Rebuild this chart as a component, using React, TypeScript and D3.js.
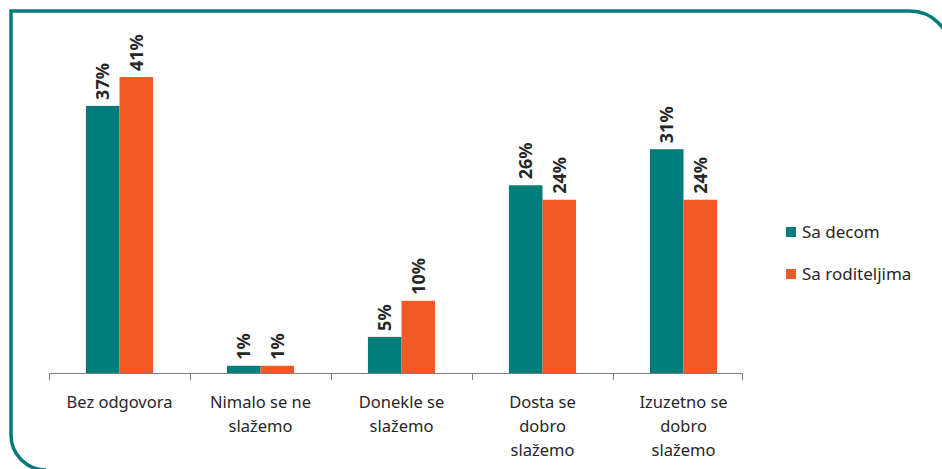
import React from "react";
import * as d3 from "d3";

const width = 942;
const height = 469;

const categories = [
  ["Bez odgovora"],
  ["Nimalo se ne", "slažemo"],
  ["Donekle se", "slažemo"],
  ["Dosta se", "dobro", "slažemo"],
  ["Izuzetno se", "dobro", "slažemo"],
];
const seriesNames = ["Sa decom", "Sa roditeljima"];
const saDecom = [37, 1, 5, 26, 31];
const saRoditeljima = [41, 1, 10, 24, 24];
const colors = ["#007C7A", "#F15A24"];

const font = "'Noto Sans', 'Open Sans', sans-serif";

export default function App() {
  const x = d3
    .scaleBand<number>()
    .domain(d3.range(categories.length))
    .range([49, 754]);
  const inner = d3
    .scaleBand<number>()
    .domain([0, 1])
    .range([0, x.bandwidth()])
    .paddingOuter(1.1)
    .paddingInner(0);
  const y = d3.scaleLinear().domain([0, 41]).range([373, 77]);
  const series = [saDecom, saRoditeljima];
  const axisEnd = 742;
  const ticks = [...categories.map((_, i) => x(i)!), axisEnd];

  return (
    <svg
      width={width}
      height={height}
      style={{ position: "absolute", left: 0, top: 0 }}
    >
      <rect width={width} height={height} fill="#fff" />
      <path
        d="M46,470 A35,35 0 0 1 11,435 L11,11 L910,11 A40,40 0 0 1 950,51"
        fill="none"
        stroke="#007B78"
        strokeWidth={3.5}
      />
      {series.map((vals, s) =>
        vals.map((v, i) => {
          const bx = x(i)! + inner(s)!;
          const bw = inner.bandwidth();
          return (
            <g key={`${s}-${i}`}>
              <rect
                x={bx}
                y={y(v)}
                width={bw}
                height={y(0) - y(v)}
                fill={colors[s]}
              />
              <text
                transform={`translate(${bx + bw / 2},${y(v) - 6}) rotate(-90)`}
                dy="0.36em"
                fontFamily={font}
                fontWeight="bold"
                fontSize={18}
                fill="#262626"
              >
                {v}%
              </text>
            </g>
          );
        })
      )}
      <line x1={49} x2={axisEnd} y1={373.5} y2={373.5} stroke="#7f7f7f" strokeWidth={1} />
      {ticks.map((t, i) => {
        const tx = Math.round(t) + 0.5;
        return (
          <line key={i} x1={tx} x2={tx} y1={373} y2={380} stroke="#7f7f7f" />
        );
      })}
      {categories.map((lines, i) => (
        <text
          key={i}
          textAnchor="middle"
          fontFamily={font}
          fontSize={16.5}
          fill="#262626"
        >
          {lines.map((l, j) => (
            <tspan key={j} x={x(i)! + x.bandwidth() / 2} y={408 + j * 24}>
              {l}
            </tspan>
          ))}
        </text>
      ))}
      {seriesNames.map((n, s) => (
        <g key={n} transform={`translate(786,${227 + s * 42})`}>
          <rect width={10} height={10} fill={colors[s]} />
          <text x={16} y={10.5} fontFamily={font} fontSize={17} fill="#262626">
            {n}
          </text>
        </g>
      ))}
    </svg>
  );
}
